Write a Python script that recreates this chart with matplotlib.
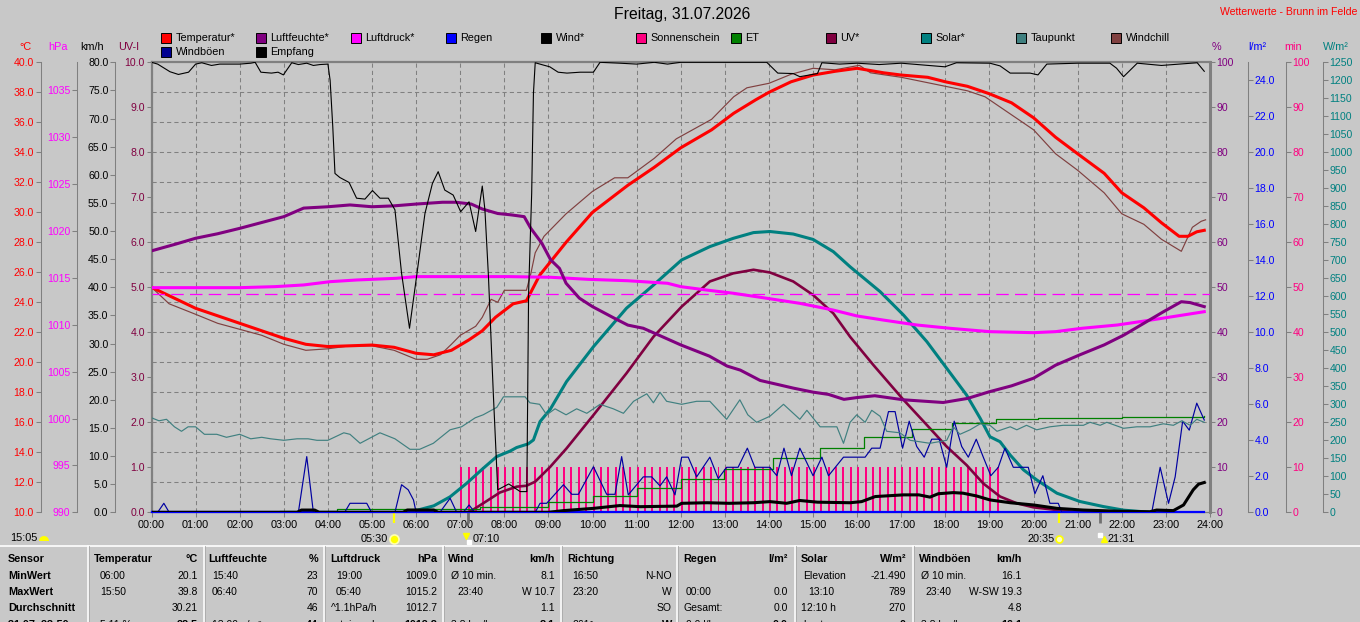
import numpy as np
import matplotlib
matplotlib.use("Agg")
import matplotlib.pyplot as plt
from matplotlib.ticker import FixedLocator, FormatStrFormatter
from matplotlib.transforms import blended_transform_factory
from matplotlib.patches import Rectangle, Wedge

# ---------------- data ----------------
TITLE = "Freitag, 31.07.2026"
STATION = "Wetterwerte - Brunn im Felde"
HOURS = list(range(0, 25))

TEMP_T = [0, 1, 2, 3, 3.5, 4, 4.5, 5, 5.5, 6, 6.4, 6.8, 7.2, 7.5, 7.8, 8.2, 8.5, 8.8, 9.4, 10,
          10.8, 11.4, 12, 12.7, 13.2, 13.7, 14, 14.5, 15, 15.5, 16, 16.6, 17, 17.6, 18, 18.5, 19, 19.5, 20, 20.5,
          21, 21.6, 22, 22.5, 22.9, 23.3, 23.5, 23.7, 23.87]
TEMP = [25.0, 23.6, 22.6, 21.6, 21.2, 21.05, 21.1, 21.15, 21.0, 20.6, 20.5, 20.8, 21.5, 22.1, 23.0, 23.9, 24.1, 25.8, 28.0, 30.0,
        31.8, 33.0, 34.3, 35.5, 36.6, 37.5, 38.0, 38.7, 39.15, 39.4, 39.6, 39.3, 39.15, 39.0, 38.7, 38.4, 37.9, 37.3, 36.3, 35.0,
        33.9, 32.6, 31.3, 30.3, 29.3, 28.4, 28.4, 28.7, 28.8]

WCH_T = [0, 0.4, 1, 1.5, 2, 2.5, 3, 3.5, 4, 4.5,
         5, 5.5, 6, 6.25, 6.55, 6.8, 7, 7.35, 7.5, 7.7,
         7.85, 8.0, 8.5, 8.6, 8.7, 8.9, 9.4, 10, 10.5, 10.8,
         11.4, 11.9, 12.7, 13.2, 13.5, 14, 14.5, 15, 15.5, 16.05,
         16.3, 17, 18, 18.5, 18.9, 19.25, 20, 20.5, 21, 21.6,
         22, 22.5, 22.9, 23.35, 23.6, 23.8, 23.9]
WCH = [25.0, 23.9, 23.2, 22.6, 22.2, 21.8, 21.2, 20.8, 20.9, 21.1,
       21.1, 20.8, 20.2, 20.2, 20.5, 21.2, 21.8, 22.4, 23.0, 24.2,
       24.0, 24.8, 24.8, 25.9, 27.3, 28.4, 29.9, 31.4, 32.3, 32.3,
       33.6, 34.9, 36.2, 37.7, 38.3, 38.6, 39.2, 39.6, 39.5, 39.8,
       39.3, 39.0, 38.4, 38.1, 37.7, 37.0, 35.5, 33.9, 32.8, 31.3,
       29.9, 29.2, 28.2, 27.4, 29.0, 29.4, 29.5]

HUM_T = [0, 0.55, 1, 1.5, 2, 2.5, 3, 3.45, 4, 4.5,
         5, 5.5, 6, 6.6, 6.9, 7.25, 7.5, 7.85, 8.15, 8.45,
         8.6, 8.85, 9.05, 9.25, 9.4, 9.7, 10, 10.5, 10.8, 11.15,
         11.45, 12, 12.65, 13.05, 13.35, 13.8, 14.2, 14.55, 15, 15.35,
         15.7, 16.0, 16.4, 17.05, 17.95, 18.5, 19, 19.5, 20, 20.5,
         21.05, 21.6, 22.05, 22.5, 22.95, 23.35, 23.55, 23.87]
HUM = [58.1, 59.6, 60.9, 61.9, 63.1, 64.4, 65.7, 67.6, 67.9, 68.3,
       67.9, 68.1, 68.5, 68.9, 68.9, 68.5, 67.4, 66.4, 66.1, 65.7,
       63.1, 59.8, 56.1, 54.2, 50.9, 47.6, 45.7, 43.1, 41.6, 40.9,
       39.6, 37.2, 34.7, 32.5, 31.6, 29.3, 28.4, 27.6, 26.7, 26.2,
       25.1, 25.5, 25.9, 25.0, 24.4, 25.3, 26.8, 28.1, 29.8, 32.7,
       35.0, 37.2, 39.4, 42.0, 44.6, 46.8, 46.6, 45.7]

PRES_T = [0, 2, 2.8, 3.45, 4.05, 4.65, 5.55, 6.0, 8.1, 9.05,
          9.9, 10.8, 11.7, 12.0, 12.6, 13.2, 13.95, 14.7, 15.45, 16.0,
          16.6, 17.35, 18.1, 19.0, 20.0, 20.5, 21.1, 21.9, 22.65, 23.4, 23.87]
PRES = [1013.96, 1013.96, 1014.07, 1014.25, 1014.6, 1014.78, 1014.96, 1015.14, 1015.14, 1015.07,
        1014.85, 1014.7, 1014.43, 1014.07, 1013.7, 1013.36, 1012.83, 1012.29, 1011.58, 1010.94,
        1010.5, 1009.98, 1009.63, 1009.27, 1009.16, 1009.27, 1009.63, 1009.98, 1010.5, 1011.05, 1011.4]
PRES_REF = 1013.25

DEW_T = [0, 0.17, 0.34, 0.52, 0.68, 0.83, 1.0, 1.2, 1.48, 1.7,
         2.0, 2.25, 2.5, 2.7, 3.0, 3.3, 3.55, 3.75, 4.0, 4.36,
         4.5, 4.73, 5.18, 5.52, 5.86, 6.08, 6.39, 6.77, 7.03, 7.34,
         7.52, 7.83, 7.98, 8.47, 8.58, 8.8, 8.96, 9.15, 9.4, 9.64,
         9.87, 10.17, 10.47, 10.7, 10.93, 11.23, 11.38, 11.53, 11.68, 12.02,
         12.36, 12.66, 13.04, 13.34, 13.52, 13.72, 14.02, 14.33, 14.7, 14.86,
         15.16, 15.54, 15.69, 15.84, 15.99, 16.18, 16.33, 16.52, 16.67, 16.97,
         17.2, 17.65, 18.03, 18.18, 18.33, 18.56, 18.79, 19.01, 19.17, 19.47,
         19.62, 19.84, 20.07, 20.37, 20.67, 21.13, 21.28, 21.51, 21.66, 22.04,
         22.34, 22.64, 22.94, 23.17, 23.36, 23.55, 23.7, 23.87]
DEW = [16.3, 16.1, 16.2, 15.7, 15.4, 15.7, 15.7, 15.2, 15.2, 15.0,
       15.2, 14.9, 15.0, 14.9, 14.8, 14.9, 14.9, 14.8, 14.8, 15.3,
       15.2, 14.6, 15.3, 14.9, 14.2, 14.2, 14.6, 15.5, 15.7, 16.3,
       16.5, 17.0, 17.7, 17.7, 17.3, 17.2, 16.5, 16.9, 16.5, 16.9,
       16.6, 17.2, 16.9, 16.6, 17.4, 17.9, 17.3, 18.0, 17.4, 17.2,
       17.4, 17.4, 16.2, 17.5, 16.5, 16.0, 16.4, 17.2, 16.2, 16.8,
       15.7, 15.7, 14.6, 16.0, 16.5, 16.0, 16.8, 16.4, 15.4, 15.3,
       14.8, 14.6, 14.8, 15.7, 15.2, 15.5, 15.9, 15.8, 15.4, 15.7,
       15.5, 15.8, 15.5, 15.7, 15.8, 15.8, 16.0, 15.8, 16.0, 15.6,
       15.7, 15.7, 15.9, 15.8, 16.1, 15.8, 16.2, 16.0]

SOL_T = [5.9, 6.0, 6.4, 6.77, 7.15, 7.52, 7.83, 8.13, 8.28,
         8.54, 8.66, 8.81, 9.04, 9.41, 10.02, 10.77, 11.38, 12.02, 12.66,
         13.19, 13.65, 14.02, 14.55, 15.0, 15.46, 15.84, 16.52, 17.05, 17.58,
         18.03, 18.48, 18.79, 19.01, 19.24, 19.47, 19.77, 20.07, 20.53, 21.05,
         21.58, 22.04, 22.64]
SOL = [0, 5, 18, 43, 81, 122, 155, 170, 180,
       190, 201, 252, 286, 363, 460, 567, 631, 701, 738,
       761, 777, 780, 773, 758, 724, 682, 613, 548, 474,
       400, 326, 261, 210, 196, 159, 118, 90, 53, 30,
       16, 6, 0]

UV_T = [7.2, 7.52, 7.9, 8.28, 8.5, 8.7, 9.04, 9.41, 10.02,
        10.77, 11.38, 12.02, 12.66, 13.19, 13.65, 14.02, 14.55, 15.0, 15.46,
        15.84, 16.37, 17.05, 17.58, 18.03, 18.48, 18.86, 19.24, 19.62, 20.0,
        20.53, 21.0]
UV = [0, 0.2, 0.44, 0.57, 0.59, 0.68, 1.01, 1.42, 2.16,
      3.09, 3.9, 4.57, 5.13, 5.31, 5.39, 5.33, 5.13, 4.83, 4.42,
      3.9, 3.27, 2.5, 1.94, 1.46, 1.05, 0.64, 0.35, 0.2, 0.11,
      0.05, 0]

WIND_T = [0, 3.3, 3.4, 3.7, 3.8, 5.7, 5.8, 6.4, 6.5, 9.0,
          9.34, 10.02, 10.62, 11.08, 11.91, 12.02, 12.6, 13.1, 13.65, 14.02,
          14.4, 14.7, 15.1, 15.84, 16.1, 16.41, 17.05, 17.4, 17.65, 17.84,
          18.18, 18.4, 18.71, 19.01, 19.47, 20.0, 20.53, 21.13, 21.9, 22.64,
          22.79, 23.17, 23.4, 23.62, 23.74, 23.87]
WIND = [0, 0, 0.4, 0.4, 0, 0, 0.4, 0.4, 0, 0,
        0.3, 0.7, 1.2, 1.0, 1.1, 1.6, 1.7, 1.6, 1.7, 1.9,
        1.6, 2.1, 1.8, 1.7, 1.9, 2.8, 3.1, 3.1, 2.7, 3.3,
        3.5, 3.4, 2.9, 2.2, 1.7, 1.3, 0.7, 0.4, 0.2, 0.1,
        0.4, 0.3, 1.3, 4.0, 5.0, 5.3]

GUST_T = [0, 0.14, 0.28, 0.4, 3.33, 3.52, 3.67, 4.38, 4.5, 4.88,
          4.99, 5.52, 5.67, 5.82, 5.94, 6.0, 6.54, 6.77, 6.92, 7.07,
          7.2, 7.33, 8.7, 8.81, 8.96, 9.34, 9.53, 9.68, 10.02, 10.32,
          10.51, 10.66, 10.81, 11.15, 11.34, 11.53, 11.68, 11.87, 12.02, 12.17,
          12.36, 12.66, 12.85, 13.04, 13.3, 13.51, 13.68, 14.02, 14.18, 14.34,
          14.51, 14.7, 15.0, 15.2, 15.35, 15.69, 16.18, 16.33, 16.52, 16.71,
          16.86, 17.03, 17.18, 17.35, 17.52, 17.69, 17.86, 18.03, 18.2, 18.37,
          18.52, 18.7, 18.86, 19.03, 19.2, 19.35, 19.54, 19.88, 20.03, 20.21,
          20.37, 20.56, 20.64, 22.68, 22.87, 23.06, 23.21, 23.38, 23.53, 23.7,
          23.87]
GUST = [0, 0, 1.6, 0, 0, 9.9, 0, 0, 1.6, 1.6,
        0, 0, 4.9, 4.0, 2.2, 0, 0, 2.5, 0, 0,
        1.3, 0, 0, 1.6, 1.6, 4.9, 3.2, 3.2, 8.1, 3.2,
        3.2, 9.9, 3.1, 6.3, 6.3, 4.7, 6.3, 3.1, 9.8, 9.8,
        6.3, 9.8, 6.0, 8.0, 8.0, 11.4, 8.0, 8.0, 6.5, 11.4,
        6.5, 11.4, 6.5, 9.8, 6.5, 9.8, 9.8, 11.4, 11.4, 17.9,
        17.9, 11.4, 16.2, 11.7, 9.8, 13.0, 13.0, 8.0, 16.2, 11.7,
        9.8, 13.0, 9.8, 6.5, 8.0, 11.4, 8.0, 8.0, 3.3, 6.5,
        1.6, 1.6, 0, 0, 8.0, 1.6, 6.3, 16.2, 14.6, 19.4,
        16.4]

ET_T = [2.92, 4.2, 7.45, 9.0, 10.0, 11.0, 12.0, 12.97, 14.1, 15.15, 16.15, 17.25, 18.15, 19.15, 20.1, 22.0, 23.87]
ET = [0.09, 0.17, 0.27, 0.56, 0.91, 1.33, 1.83, 2.39, 3.0, 3.59, 4.17, 4.61, 4.94, 5.17, 5.24, 5.31, 5.37]

RAIN_T = [0, 6, 12, 18, 23.87]
RAIN = [0.0, 0.0, 0.0, 0.0, 0.0]

EMP_T = [0, 0.14, 0.42, 0.61, 0.84, 1.0, 1.14, 1.36, 1.55, 2.0,
         2.25, 2.35, 2.48, 2.72, 2.87, 2.99, 3.18, 3.33, 3.52, 3.67,
         3.82, 4.0, 4.05, 4.11, 4.16, 4.27, 4.48, 4.65, 4.84, 5.01,
         5.18, 5.37, 5.52, 5.67, 5.85, 6.01, 6.2, 6.37, 6.5, 6.65,
         6.84, 7.01, 7.2, 7.35, 7.5, 7.56, 7.64, 7.75, 7.85, 8.1,
         8.36, 8.51, 8.55, 8.62, 8.66, 8.7, 8.88, 9.03, 9.22, 9.42,
         9.72, 10.02, 10.17, 10.62, 11.0, 11.4, 11.7, 12.0, 13.95, 14.2,
         14.55, 14.7, 14.93, 15.1, 15.2, 15.6, 16.0, 16.5, 17.0, 17.99,
         18.25, 19.01, 19.24, 19.47, 19.92, 20.1, 20.3, 21.0, 21.73, 21.88,
         22.04, 22.35, 22.9, 23.71, 23.87]
EMP = [100, 99.6, 97.9, 97.3, 97.8, 99.6, 99.9, 99.3, 99.6, 99.6,
       99.8, 100, 97.8, 97.6, 97.8, 97.2, 99.9, 99.5, 99.8, 99.3,
       99.5, 99.6, 96.0, 85.7, 75.3, 74.4, 73.3, 69.8, 69.6, 71.5,
       69.8, 69.8, 67.2, 53.1, 40.9, 52.4, 66.4, 73.1, 75.7, 71.6,
       70.5, 66.8, 69.0, 62.4, 72.5, 67.2, 52.4, 26.4, 5.0, 6.3,
       4.6, 4.6, 48.7, 70.9, 93.1, 99.9, 99.4, 99.0, 97.8, 97.6,
       97.8, 97.8, 100, 99.8, 99.6, 100, 99.6, 100, 100, 97.6,
       97.5, 96.8, 97.2, 97.5, 99.9, 99.6, 99.8, 99.5, 99.8, 99.0,
       99.9, 99.8, 99.2, 97.6, 97.6, 97.2, 99.6, 99.8, 99.8, 98.7,
       96.8, 99.8, 99.3, 99.9, 98.0]

# sunshine minutes per 10-minute interval, one row per hour (00 .. 23)
SUN_MIN = [0, 0, 0, 0, 0, 0,
           0, 0, 0, 0, 0, 0,
           0, 0, 0, 0, 0, 0,
           0, 0, 0, 0, 0, 0,
           0, 0, 0, 0, 0, 0,
           0, 0, 0, 0, 0, 0,
           0, 0, 0, 0, 0, 0,
           10, 10, 10, 10, 10, 10,
           10, 10, 10, 10, 10, 10,
           10, 10, 10, 10, 10, 10,
           10, 10, 10, 10, 10, 10,
           10, 10, 10, 10, 10, 10,
           10, 10, 10, 10, 10, 10,
           10, 10, 10, 10, 10, 10,
           10, 10, 10, 10, 10, 10,
           10, 10, 10, 10, 10, 10,
           10, 10, 10, 10, 10, 10,
           10, 10, 10, 10, 10, 10,
           10, 10, 10, 10, 10, 10,
           10, 10, 0, 0, 0, 0,
           0, 0, 0, 0, 0, 0,
           0, 0, 0, 0, 0, 0,
           0, 0, 0, 0, 0, 0,
           0, 0, 0, 0, 0, 0]

SUNRISE, MOONSET, SUNSET, MOONRISE = 5.5, 7 + 10 / 60, 20 + 35 / 60, 21 + 31 / 60
EVENT_LABELS = ["05:30", "07:10", "20:35", "21:31"]
DAYLEN = "15:05"

LEGEND_ROW1 = [("Temperatur*", "#FF0000"), ("Luftfeuchte*", "#800080"), ("Luftdruck*", "#FF00FF"),
               ("Regen", "#0000FF"), ("Wind*", "#000000"), ("Sonnenschein", "#FF0080"), ("ET", "#008000"),
               ("UV*", "#800040"), ("Solar*", "#008080"), ("Taupunkt", "#408080"), ("Windchill", "#804040")]
LEGEND_ROW2 = [("Windböen", "#000090"), ("Empfang", "#000000")]

TABLE_HEAD = [("Sensor", 8, "l"), ("Temperatur", 94, "l"), ("°C", 198, "r"), ("Luftfeuchte", 208, "l"),
              ("%", 318, "r"), ("Luftdruck", 330, "l"), ("hPa", 437, "r"), ("Wind", 448, "l"),
              ("km/h", 555, "r"), ("Richtung", 567, "l"), ("Regen", 683, "l"), ("l/m²", 788, "r"),
              ("Solar", 801, "l"), ("W/m²", 906, "r"), ("Windböen", 919, "l"), ("km/h", 1022, "r")]
ROW_NAMES = ["MinWert", "MaxWert", "Durchschnitt", "31.07. 23:50"]
ROW_MIN = [("06:00", 100, "l"), ("20.1", 198, "r"), ("15:40", 212, "l"), ("23", 318, "r"),
           ("19:00", 336, "l"), ("1009.0", 437, "r"), ("Ø 10 min.", 451, "l"), ("8.1", 555, "r"),
           ("16:50", 572, "l"), ("N-NO", 672, "r"), ("Elevation", 803, "l"), ("-21.490", 906, "r"),
           ("Ø 10 min.", 921, "l"), ("16.1", 1022, "r")]
ROW_MAX = [("15:50", 100, "l"), ("39.8", 198, "r"), ("06:40", 212, "l"), ("70", 318, "r"),
           ("05:40", 336, "l"), ("1015.2", 437, "r"), ("23:40", 457, "l"), ("W 10.7", 555, "r"),
           ("23:20", 572, "l"), ("W", 672, "r"), ("00:00", 686, "l"), ("0.0", 788, "r"),
           ("13:10", 808, "l"), ("789", 906, "r"), ("23:40", 925, "l"), ("W-SW 19.3", 1022, "r")]
ROW_AVG = [("30.21", 198, "r"), ("46", 318, "r"), ("^1.1hPa/h", 331, "l"), ("1012.7", 437, "r"),
           ("1.1", 555, "r"), ("SO", 672, "r"), ("Gesamt:", 683, "l"), ("0.0", 788, "r"),
           ("12:10 h", 801, "l"), ("270", 906, "r"), ("4.8", 1022, "r")]
ROW_NOW = [("5.11 %", 100, "l"), ("28.5", 198, "r"), ("13.00 g/m³", 212, "l"), ("44", 318, "r"),
           ("steigend", 336, "l"), ("1012.8", 437, "r"), ("3.8 km/h", 451, "l"), ("8.1", 555, "r"),
           ("261°", 572, "l"), ("W", 672, "r"), ("0.0 l/h", 686, "l"), ("0.0", 788, "r"),
           ("heute", 803, "l"), ("0", 906, "r"), ("3.8 km/h", 921, "l"), ("16.1", 1022, "r")]

# ---------------- layout ----------------
W, H = 1360, 622
BG = "#C8C8C8"
GRID = "#808080"
plt.rcParams["font.family"] = ["Liberation Sans", "DejaVu Sans"]

fig = plt.figure(figsize=(W / 100, H / 100), dpi=100, facecolor=BG)
X0, X1, Y0, Y1 = 151.5, 1210.0, 62.3, 512.3
RECT = [X0 / W, 1 - Y1 / H, (X1 - X0) / W, (Y1 - Y0) / H]


def off(xpix):
    return (xpix - X0) / (X1 - X0)


base = fig.add_axes(RECT, facecolor=BG)
base.set_xlim(0, 24)
base.set_ylim(10, 40)
base.xaxis.set_major_locator(FixedLocator(HOURS))
base.set_xticklabels([f"{h:02d}:00" for h in HOURS])
base.yaxis.set_major_locator(FixedLocator(np.arange(12, 40, 2)))
base.grid(True, color=GRID, linestyle=(0, (4, 3)), linewidth=0.75)
base.tick_params(axis="y", left=False, labelleft=False)
base.tick_params(axis="x", direction="out", length=3.6, width=0.75, color=GRID, pad=2.0, labelsize=7.8)
for k, s in base.spines.items():
    s.set_color(GRID)
base.spines["left"].set_linewidth(1.6)
base.spines["right"].set_linewidth(2.2)
base.spines["top"].set_linewidth(1.6)
base.spines["bottom"].set_linewidth(0.9)


def scale_axes(ylim, side, pos, ticks, fmt, color, show_spine=True):
    ax = fig.add_axes(RECT, facecolor="none")
    ax.set_xlim(0, 24)
    ax.set_ylim(*ylim)
    ax.xaxis.set_visible(False)
    for k, s in ax.spines.items():
        s.set_visible(k == side and show_spine)
    sp = ax.spines[side]
    sp.set_position(("axes", pos))
    sp.set_color(GRID)
    sp.set_linewidth(0.75)
    ax.yaxis.set_ticks_position(side)
    ax.yaxis.set_major_locator(FixedLocator(ticks))
    ax.yaxis.set_major_formatter(FormatStrFormatter(fmt))
    ax.tick_params(axis="y", direction="out", length=3.6, width=0.75, color=GRID,
                   labelcolor=color, labelsize=7.6, pad=1.2)
    return ax


ax_m = scale_axes((0, 100), "right", off(1286), np.arange(0, 101, 10), "%d", "#FF0080")
ax_s = scale_axes((0, 1250), "right", off(1323), np.arange(0, 1251, 50), "%d", "#008080")
ax_uv = scale_axes((0, 10), "left", 0.0, np.arange(0, 11, 1), "%.1f", "#800040", show_spine=False)
ax_r = scale_axes((0, 25), "right", off(1248), np.arange(0, 25, 2), "%.1f", "#0000FF")
ax_w = scale_axes((0, 80), "left", off(115), np.arange(0, 81, 5), "%.1f", "#000000")
ax_c = scale_axes((10, 40), "left", off(40.5), np.arange(10, 41, 2), "%.1f", "#FF0000")
ax_p = scale_axes((990, 1038), "left", off(77), np.arange(990, 1036, 5), "%d", "#FF00FF")
ax_h = scale_axes((0, 100), "right", 1.0, np.arange(0, 101, 10), "%d", "#800080", show_spine=False)

# sunshine bars
SUN_T = np.arange(len(SUN_MIN)) / 6.0
ax_m.bar(SUN_T, SUN_MIN, width=0.045, align="edge", color="#FF0080", linewidth=0)

ax_s.plot(SOL_T, SOL, color="#008080", lw=2.2)
ax_uv.plot(UV_T, UV, color="#800040", lw=1.9)
ax_r.plot(ET_T, ET, color="#008000", lw=0.9, drawstyle="steps-post")
ax_w.plot(GUST_T, GUST, color="#0000A0", lw=0.85)
ax_w.plot(WIND_T, WIND, color="#000000", lw=2.2)
ax_c.plot(DEW_T, DEW, color="#408080", lw=0.85)
ax_c.plot(WCH_T, WCH, color="#804040", lw=0.85)
ax_c.plot(TEMP_T, TEMP, color="#FF0000", lw=2.2)
ax_p.axhline(PRES_REF, color="#FF00FF", lw=0.9, linestyle=(0, (10, 5)))
ax_p.plot(PRES_T, PRES, color="#FF00FF", lw=2.2)
ax_h.plot(HUM_T, HUM, color="#800080", lw=2.2)
ax_r.plot(RAIN_T, RAIN, color="#0000FF", lw=1.6, clip_on=False)
ax_h.plot(EMP_T, EMP, color="#000000", lw=0.8)

# event ticks below the time axis
bt = blended_transform_factory(base.transData, base.transAxes)
for t, col, lw in [(SUNRISE, "#FFFF00", 1.6), (SUNSET, "#FFFF00", 1.6),
                   (MOONSET, "#707070", 2.0), (MOONRISE, "#707070", 2.0)]:
    base.plot([t, t], [0, -0.023], transform=bt, clip_on=False, color=col, lw=lw, solid_capstyle="butt")

yic = -(538.5 - Y1) / (Y1 - Y0)
base.plot([SUNRISE], [yic], transform=bt, clip_on=False, marker="o", ms=6.5, mfc="#FFFF00", mec="#FFFFB0", mew=1.2)
base.plot([SUNSET], [yic], transform=bt, clip_on=False, marker="o", ms=5, mfc="#FFFFC0", mec="#FFFF00", mew=1.2)
base.plot([MOONSET - 0.04], [yic + 0.006], transform=bt, clip_on=False, marker="v", ms=5, color="#FFFF00")
base.plot([MOONSET + 0.03], [yic - 0.008], transform=bt, clip_on=False, marker="s", ms=3, color="#FFFFFF")
base.plot([MOONRISE - 0.02], [yic + 0.008], transform=bt, clip_on=False, marker="s", ms=3, color="#FFFFFF")
base.plot([MOONRISE + 0.08], [yic], transform=bt, clip_on=False, marker="^", ms=5, color="#FFFF00")

ann = dict(textcoords="offset pixels", va="center", fontsize=7.8, annotation_clip=False, xycoords=bt)
base.annotate(EVENT_LABELS[0], xy=(SUNRISE, yic), xytext=(-6, 0), ha="right", **ann)
base.annotate(EVENT_LABELS[1], xy=(MOONSET, yic), xytext=(5, 0), ha="left", **ann)
base.annotate(EVENT_LABELS[2], xy=(SUNSET, yic), xytext=(-5, 0), ha="right", **ann)
base.annotate(EVENT_LABELS[3], xy=(MOONRISE, yic), xytext=(7, 0), ha="left", **ann)

# ---------------- overlay in pixel coordinates ----------------
ov = fig.add_axes([0, 0, 1, 1], facecolor="none")
ov.set_xlim(0, W)
ov.set_ylim(H, 0)
ov.axis("off")

ov.text(682, 15, TITLE, ha="center", va="center", fontsize=11.3, color="#000000")
ov.text(1357, 12, STATION, ha="right", va="center", fontsize=7.6, color="#FF0000")

for name, x, col in [("°C", 25, "#FF0000"), ("hPa", 58, "#FF00FF"), ("km/h", 92, "#000000"),
                     ("UV-I", 129, "#800040"), ("%", 1216, "#800080"), ("l/m²", 1257, "#0000FF"),
                     ("min", 1293, "#FF0080"), ("W/m²", 1336, "#008080")]:
    ov.text(x, 47, name, ha="center", va="center", fontsize=7.8, color=col)

for i, (lab, col) in enumerate(LEGEND_ROW1):
    x = 161 + 95 * i
    ov.add_patch(Rectangle((x, 33), 10, 10, facecolor=col, edgecolor="#000000", lw=0.7))
    ov.text(x + 14.5, 38.3, lab, ha="left", va="center", fontsize=7.8)
for i, (lab, col) in enumerate(LEGEND_ROW2):
    x = 161 + 95 * i
    ov.add_patch(Rectangle((x, 47), 10, 10, facecolor=col, edgecolor="#000000", lw=0.7))
    ov.text(x + 14.5, 52.3, lab, ha="left", va="center", fontsize=7.8)

# day length
ov.text(10, 538, DAYLEN, ha="left", va="center", fontsize=7.8)
ov.add_patch(Wedge((44, 541), 5, 180, 360, facecolor="#FFFF00", edgecolor="none"))

# table
ov.plot([0, W], [546, 546], color="#FFFFFF", lw=1.2)
for x in [88, 204, 324, 443, 561, 677, 795, 913]:
    ov.plot([x, x], [546, H], color="#FFFFFF", lw=1.1)
    ov.plot([x + 1.2, x + 1.2], [546, H], color="#A8A8A8", lw=0.6)


def put(items, y, bold=False, size=7.5):
    for txt, x, al in items:
        ov.text(x, y, txt, ha="left" if al == "l" else "right", va="center",
                fontsize=size, fontweight="bold" if bold else "normal")


put(TABLE_HEAD, 559.5, bold=True, size=7.8)
ys = [576, 592, 608, 624.5]
for name, y in zip(ROW_NAMES, ys):
    ov.text(8, y, name, ha="left", va="center", fontsize=7.8, fontweight="bold")
put(ROW_MIN, ys[0])
put(ROW_MAX, ys[1])
put(ROW_AVG, ys[2])
put([it for it in ROW_NOW if it[2] == "l"], ys[3])
put([it for it in ROW_NOW if it[2] == "r"], ys[3], bold=True, size=7.8)

fig.savefig("out.png", dpi=100, facecolor=BG)
